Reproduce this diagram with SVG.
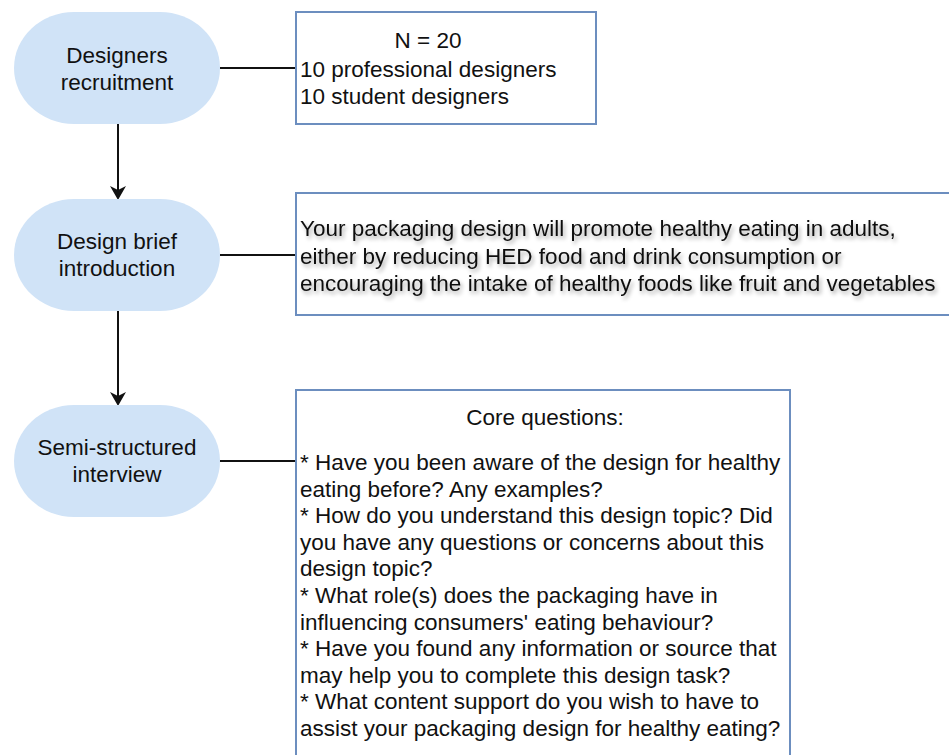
<svg xmlns="http://www.w3.org/2000/svg" width="949" height="755" viewBox="0 0 949 755">
<style>
text{font-family:"Liberation Sans",Arial,sans-serif;font-size:22.5px;fill:#111}
.node{fill:#d0e3f7;stroke:none}
.box{fill:#fff;stroke:#6c8ebf;stroke-width:2}
.c{text-anchor:middle}
.line{stroke:#111;stroke-width:2;fill:none}
</style>
<defs>
<marker id="arr" markerWidth="14" markerHeight="16" refX="12" refY="8" orient="auto" markerUnits="userSpaceOnUse">
<path d="M0,0 L14,8 L0,16 L4,8 Z" fill="#111"/>
</marker>
<filter id="sh" x="-5%" y="-20%" width="110%" height="150%">
<feGaussianBlur in="SourceAlpha" stdDeviation="2"/>
<feOffset dx="2" dy="3" result="b"/>
<feComponentTransfer><feFuncA type="linear" slope="0.35"/></feComponentTransfer>
<feMerge><feMergeNode/><feMergeNode in="SourceGraphic"/></feMerge>
</filter>
</defs>
<g id="connectors">
<line class="line" x1="118" y1="124" x2="118" y2="198" marker-end="url(#arr)"/>
<line class="line" x1="118" y1="311" x2="118" y2="404" marker-end="url(#arr)"/>
<line class="line" x1="220" y1="68" x2="296" y2="68"/>
<line class="line" x1="220" y1="255" x2="296" y2="255"/>
<line class="line" x1="220" y1="461" x2="296" y2="461"/>
</g>
<g id="n1">
<rect class="node" x="14" y="12" width="206" height="112" rx="60" ry="56"/>
<text class="c" x="117" y="63">Designers</text>
<text class="c" x="117" y="90">recruitment</text>
</g>
<g id="n2">
<rect class="node" x="14" y="199" width="206" height="112" rx="60" ry="56"/>
<text class="c" x="117" y="249">Design brief</text>
<text class="c" x="117" y="276">introduction</text>
</g>
<g id="n3">
<rect class="node" x="14" y="405" width="206" height="112" rx="60" ry="56"/>
<text class="c" x="117" y="455">Semi-structured</text>
<text class="c" x="117" y="482">interview</text>
</g>
<g id="b1">
<rect class="box" x="296" y="12" width="300" height="112"/>
<text class="c" x="428" y="48">N = 20</text>
<text x="300" y="77">10 professional designers</text>
<text x="300" y="104">10 student designers</text>
</g>
<g id="b2">
<rect class="box" x="296" y="193" width="660" height="122"/>
<g filter="url(#sh)">
<text x="300" y="236">Your packaging design will promote healthy eating in adults,</text>
<text x="300" y="264">either by reducing HED food and drink consumption or</text>
<text x="300" y="291">encouraging the intake of healthy foods like fruit and vegetables</text>
</g>
</g>
<g id="b3">
<rect class="box" x="296" y="390" width="494" height="380"/>
<text class="c" x="545" y="425">Core questions:</text>
<text x="300" y="470">* Have you been aware of the design for healthy</text>
<text x="300" y="496.6">eating before? Any examples?</text>
<text x="300" y="523.2">* How do you understand this design topic? Did</text>
<text x="300" y="549.8">you have any questions or concerns about this</text>
<text x="300" y="576.4">design topic?</text>
<text x="300" y="603">* What role(s) does the packaging have in</text>
<text x="300" y="629.6">influencing consumers' eating behaviour?</text>
<text x="300" y="656.2">* Have you found any information or source that</text>
<text x="300" y="682.8">may help you to complete this design task?</text>
<text x="300" y="709.4">* What content support do you wish to have to</text>
<text x="300" y="736">assist your packaging design for healthy eating?</text>
</g>
</svg>
